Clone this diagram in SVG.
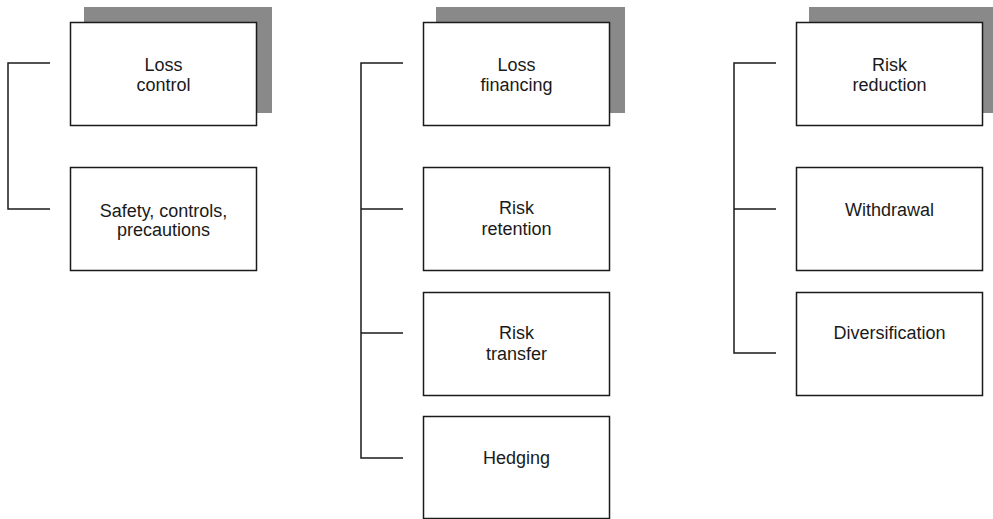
<svg xmlns="http://www.w3.org/2000/svg" width="993" height="519" viewBox="0 0 993 519">
<style>
.box{fill:#fff;stroke:#1a1a1a;stroke-width:1.5}
.sh{fill:#898989}
.ln{fill:none;stroke:#1a1a1a;stroke-width:1.5}
text{font-family:"Liberation Sans",Arial,sans-serif;font-size:18px;fill:#1a1a1a;text-anchor:middle}
</style>
<rect width="993" height="519" fill="#fff"/>
<g id="connectors">
<path class="ln" d="M50,63 H8 V209 H50"/>
<path class="ln" d="M403,63 H361 V458 H403 M361,209 H403 M361,333 H403"/>
<path class="ln" d="M776,63 H734 V353 H776 M734,209 H776"/>
</g>
<g id="loss-control">
<rect class="sh" x="84" y="7" width="188" height="106"/>
<rect class="box" x="70.5" y="22.5" width="186" height="103"/>
<text x="163.5" y="71">Loss</text>
<text x="163.5" y="91">control</text>
</g>
<g id="safety">
<rect class="box" x="70.5" y="167.5" width="186" height="103"/>
<text x="163.5" y="216.5">Safety, controls,</text>
<text x="163.5" y="236">precautions</text>
</g>
<g id="loss-financing">
<rect class="sh" x="436" y="7" width="189" height="106"/>
<rect class="box" x="423.5" y="22.5" width="186" height="103"/>
<text x="516.5" y="71">Loss</text>
<text x="516.5" y="91">financing</text>
</g>
<g id="risk-retention">
<rect class="box" x="423.5" y="167.5" width="186" height="103"/>
<text x="516.5" y="214">Risk</text>
<text x="516.5" y="235">retention</text>
</g>
<g id="risk-transfer">
<rect class="box" x="423.5" y="292.5" width="186" height="103"/>
<text x="516.5" y="339">Risk</text>
<text x="516.5" y="360">transfer</text>
</g>
<g id="hedging">
<rect class="box" x="423.5" y="416.5" width="186" height="102"/>
<text x="516.5" y="464">Hedging</text>
</g>
<g id="risk-reduction">
<rect class="sh" x="809" y="7" width="184" height="106"/>
<rect class="box" x="796.5" y="22.5" width="186" height="103"/>
<text x="889.5" y="71">Risk</text>
<text x="889.5" y="91">reduction</text>
</g>
<g id="withdrawal">
<rect class="box" x="796.5" y="167.5" width="186" height="103"/>
<text x="889.5" y="216">Withdrawal</text>
</g>
<g id="diversification">
<rect class="box" x="796.5" y="292.5" width="186" height="103"/>
<text x="889.5" y="338.5">Diversification</text>
</g>
</svg>
